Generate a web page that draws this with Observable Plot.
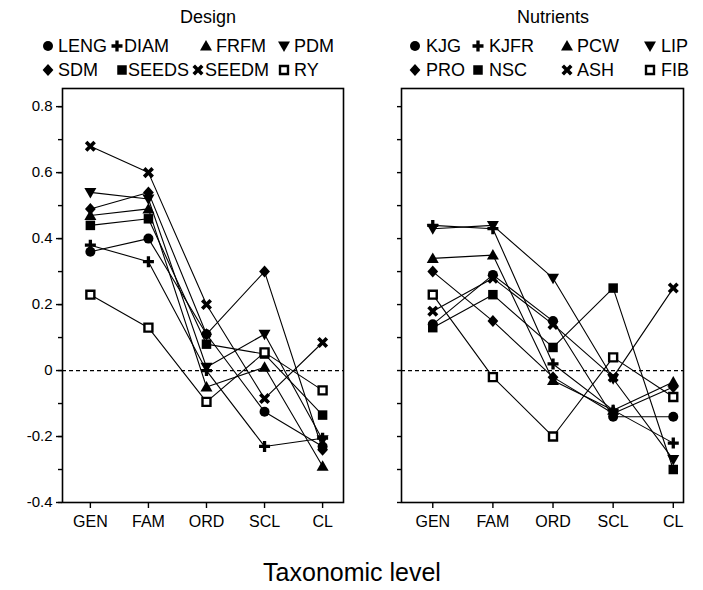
<!DOCTYPE html>
<html>
<head>
<meta charset="utf-8">
<script src="https://cdn.jsdelivr.net/npm/d3@7"></script>
<script src="https://cdn.jsdelivr.net/npm/@observablehq/plot@0.6"></script>
<style>
  html, body { margin: 0; padding: 0; background: #fff; }
  #root { position: relative; width: 703px; height: 590px; font-family: "Liberation Sans", Arial, Helvetica, sans-serif; color: #000; }
  .abs { position: absolute; white-space: nowrap; }
  .title { font-size: 18px; transform: translate(-50%, -50%); }
  .leg { font-size: 18px; transform: translateY(-50%); line-height: 1; }
  .xlabel { font-size: 25px; transform: translate(-50%, -50%); }
  svg.icon { position: absolute; overflow: visible; }
</style>
</head>
<body>
<div id="root"></div>
<script>
// ---------- data ----------
const LEVELS = ["GEN", "FAM", "ORD", "SCL", "CL"];

// Design panel
const DESIGN = ["LENG", "DIAM", "FRFM", "PDM", "SDM", "SEEDS", "SEEDM", "RY"];
const LENG  = [0.36, 0.40, 0.11, -0.125, -0.23];
const DIAM  = [0.38, 0.33, 0.00, -0.23, -0.205];
const FRFM  = [0.47, 0.49, -0.05, 0.01, -0.29];
const PDM   = [0.54, 0.52, 0.01, 0.11, -0.21];
const SDM   = [0.49, 0.54, 0.11, 0.30, -0.24];
const SEEDS = [0.44, 0.46, 0.08, 0.05, -0.135];
const SEEDM = [0.68, 0.60, 0.20, -0.085, 0.085];
const RY    = [0.23, 0.13, -0.095, 0.055, -0.06];

// Nutrients panel
const NUTRIENTS = ["KJG", "KJFR", "PCW", "LIP", "PRO", "NSC", "ASH", "FIB"];
const KJG  = [0.14, 0.29, 0.15, -0.14, -0.14];
const KJFR = [0.44, 0.43, 0.02, -0.12, -0.22];
const PCW  = [0.34, 0.35, -0.03, -0.12, -0.035];
const LIP  = [0.43, 0.44, 0.28, -0.025, -0.27];
const PRO  = [0.30, 0.15, -0.02, -0.13, -0.05];
const NSC  = [0.13, 0.23, 0.07, 0.25, -0.30];
const ASH  = [0.18, 0.28, 0.14, -0.02, 0.25];
const FIB  = [0.23, -0.02, -0.20, 0.04, -0.08];

const SHAPES = ["circle", "plus", "triangle", "triangleDown", "diamond", "square", "times", "openSquare"];
const Y_TICKS = [-0.4, -0.2, 0, 0.2, 0.4, 0.6, 0.8];
const Y_MINOR = [-0.4, -0.3, -0.2, -0.1, 0, 0.1, 0.2, 0.3, 0.4, 0.5, 0.6, 0.7, 0.8];

// ---------- symbols ----------
function poly(c, pts) { c.moveTo(pts[0][0], pts[0][1]); for (let i = 1; i < pts.length; i++) c.lineTo(pts[i][0], pts[i][1]); c.closePath(); }
function plusPts(a, t) {
  return [[-t,-a],[t,-a],[t,-t],[a,-t],[a,t],[t,t],[t,a],[-t,a],[-t,t],[-a,t],[-a,-t],[-t,-t]];
}
const SYM = {
  circle: { draw(c, s) { const r = Math.sqrt(s / Math.PI); c.moveTo(r, 0); c.arc(0, 0, r, 0, 2 * Math.PI); } },
  triangle: { draw(c, s) { const r = Math.sqrt(s / Math.PI) * 1.2; poly(c, [[0, -r], [r, r * 0.75], [-r, r * 0.75]]); } },
  triangleDown: { draw(c, s) { const r = Math.sqrt(s / Math.PI) * 1.2; poly(c, [[0, r], [r, -r * 0.75], [-r, -r * 0.75]]); } },
  diamond: { draw(c, s) { const r = Math.sqrt(s / Math.PI) * 1.2; poly(c, [[0, -r], [r * 0.9, 0], [0, r], [-r * 0.9, 0]]); } },
  square: { draw(c, s) { const r = Math.sqrt(s / Math.PI) * 0.95; c.rect(-r, -r, 2 * r, 2 * r); } },
  openSquare: { draw(c, s) { const r = Math.sqrt(s / Math.PI) * 0.95; c.rect(-r, -r, 2 * r, 2 * r); } },
  plus: { draw(c, s) { const r = Math.sqrt(s / Math.PI); poly(c, plusPts(r * 1.1, r * 0.33)); } },
  times: { draw(c, s) {
    const r = Math.sqrt(s / Math.PI); const k = Math.SQRT1_2;
    poly(c, plusPts(r * 1.2, r * 0.36).map(([x, y]) => [(x - y) * k, (x + y) * k]));
  } }
};
function dotStyle(shape) {
  if (shape === "openSquare") return { symbol: SYM.openSquare, r: 4.2, fill: "white", stroke: "black", strokeWidth: 2.4 };
  return { symbol: SYM[shape], r: 5, fill: "black", stroke: "none" };
}

// ---------- panels ----------
function panel(names, values, o) {
  const rows = names.flatMap((n, si) => values[si].map((v, i) => ({ series: n, shape: SHAPES[si], x: i, y: v })));
  const marks = [
    Plot.ruleY([0], { stroke: "black", strokeWidth: 1.2, strokeDasharray: "4,3" }),
    Plot.line(rows, { x: "x", y: "y", z: "series", stroke: "black", strokeWidth: 1.1 }),
    ...SHAPES.map(sh => Plot.dot(rows.filter(d => d.shape === sh), { x: "x", y: "y", ...dotStyle(sh) })),
    Plot.frame({ stroke: "black", strokeWidth: 1.6 }),
    Plot.axisY({ ticks: Y_MINOR, tickSize: 4, tickFormat: () => "", strokeWidth: 1.4, label: null }),
    Plot.axisX({ ticks: [0, 1, 2, 3, 4], tickFormat: i => LEVELS[i], tickSize: 6, tickPadding: 7, fontSize: 16, strokeWidth: 1.4, label: null })
  ];
  if (o.labels) marks.push(Plot.axisY({ ticks: Y_TICKS, tickSize: 6, tickPadding: 4, fontSize: 15, label: null,
    tickFormat: d => (Math.abs(d) < 1e-9 ? "0" : d.toFixed(1)), strokeWidth: 1.4 }));
  return Plot.plot({
    width: o.width, height: 540,
    marginLeft: o.ml, marginRight: o.mr, marginTop: 88, marginBottom: 38,
    x: { type: "linear", domain: o.xdom, axis: null },
    y: { domain: [-0.4, 0.855], axis: null },
    style: { fontFamily: "'Liberation Sans', Arial, Helvetica, sans-serif", fontSize: "15px", color: "black", background: "white" },
    marks
  });
}

const root = document.getElementById("root");
function place(el, left, top) { el.style.position = "absolute"; el.style.left = left + "px"; el.style.top = top + "px"; root.appendChild(el); }

const p1 = panel(DESIGN, [LENG, DIAM, FRFM, PDM, SDM, SEEDS, SEEDM, RY], { width: 355, ml: 62, mr: 12, xdom: [-0.48, 4.36], labels: true });
place(p1, 0, 0);
const p2 = panel(NUTRIENTS, [KJG, KJFR, PCW, LIP, PRO, NSC, ASH, FIB], { width: 353, ml: 51, mr: 20, xdom: [-0.52, 4.17], labels: false });
place(p2, 350, 0);

// ---------- titles & legends ----------
function text(cls, str, x, y) {
  const d = document.createElement("div"); d.className = "abs " + cls; d.textContent = str;
  d.style.left = x + "px"; d.style.top = y + "px"; root.appendChild(d); return d;
}
function icon(shape, cx, cy) {
  const st = dotStyle(shape);
  const size = Math.PI * st.r * st.r;
  const svg = d3.create("svg").attr("class", "icon").attr("width", 14).attr("height", 14)
    .style("left", (cx - 7) + "px").style("top", (cy - 7) + "px");
  svg.append("path").attr("transform", "translate(7,7)")
    .attr("d", d3.symbol(st.symbol, size)())
    .attr("fill", st.fill).attr("stroke", st.stroke).attr("stroke-width", st.strokeWidth || 0);
  root.appendChild(svg.node());
}
text("title", "Design", 208, 17);
text("title", "Nutrients", 553, 17);

// legend order: row1 = circle, plus, triangle, triangleDown ; row2 = diamond, square, times, openSquare
const LEG_ROW_Y = [46, 70];
const LEFT_ICON_X = [48, 117, 206, 284, 48, 122, 198, 284];
const LEFT_TEXT_X = [58, 124, 216, 294, 58, 128, 205, 294];
const RIGHT_ICON_X = [415, 478, 567, 650, 415, 478, 567, 650];
const RIGHT_TEXT_X = [426, 489, 577, 661, 426, 489, 577, 661];
SHAPES.forEach((sh, k) => {
  const y = LEG_ROW_Y[k < 4 ? 0 : 1];
  icon(sh, LEFT_ICON_X[k], y);
  text("leg", DESIGN[k], LEFT_TEXT_X[k], y);
  icon(sh, RIGHT_ICON_X[k], y);
  text("leg", NUTRIENTS[k], RIGHT_TEXT_X[k], y);
});

text("xlabel", "Taxonomic level", 352, 572);
</script>
</body>
</html>
